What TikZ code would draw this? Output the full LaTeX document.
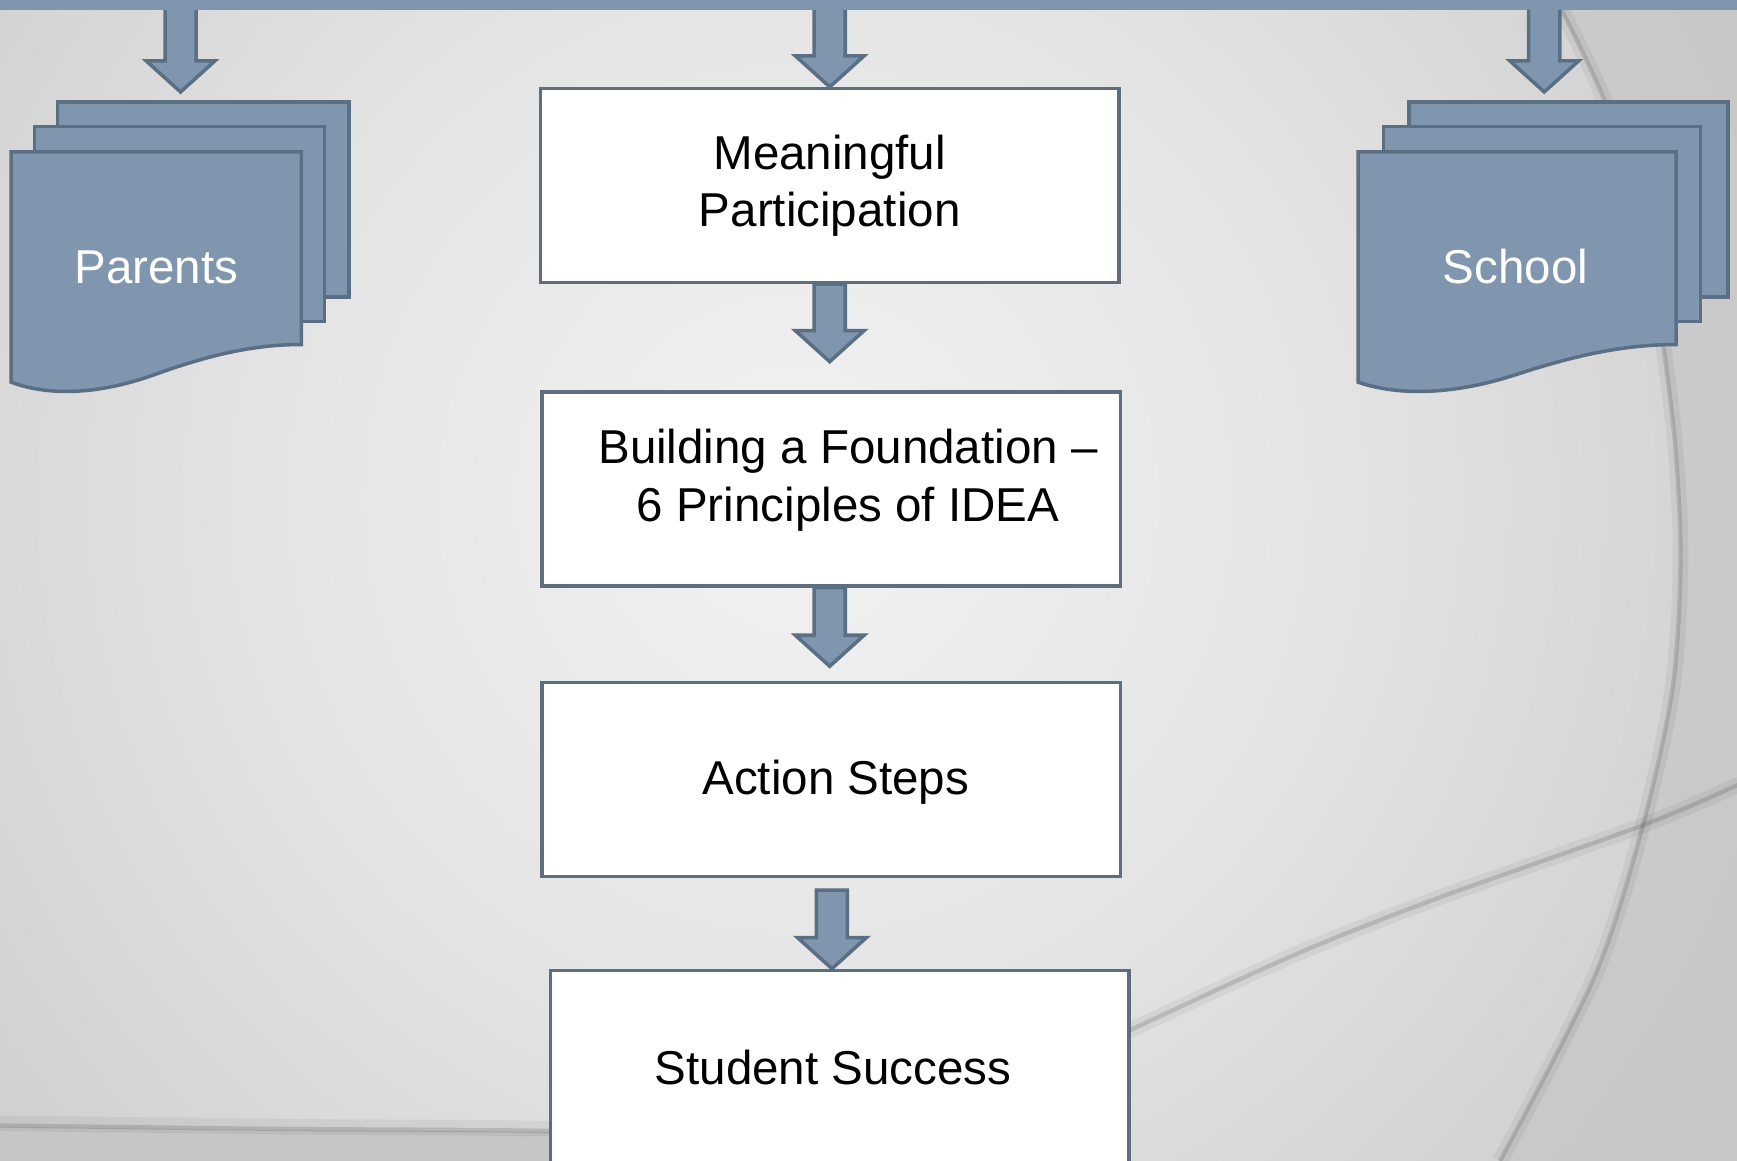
\documentclass[tikz,border=0pt]{standalone}
\usepackage{fontspec}
\setmainfont{Liberation Sans}
\usetikzlibrary{calc}
\definecolor{slate}{HTML}{7F96AE}
\definecolor{slateline}{HTML}{5B6F84}
\definecolor{boxline}{HTML}{5E6E7E}
\definecolor{bgin}{HTML}{F2F2F2}
\definecolor{bgmid}{HTML}{E4E4E4}
\definecolor{bgedge}{HTML}{B8B8B8}
\definecolor{bgout}{HTML}{A9A9A9}
\definecolor{arcfill}{HTML}{C6C6C6}
\definecolor{lowfill}{HTML}{C6C6C6}
\pgfdeclareradialshading{bgshade}{\pgfpoint{0bp}{0bp}}{color(0bp)=(bgin); color(6bp)=(bgmid); color(18bp)=(bgedge); color(25bp)=(bgout); color(50bp)=(bgout)}
\tikzset{
  sheet/.style={fill=slate, draw=slateline, line width=0.9pt, line join=miter},
  flowbox/.style={draw=boxline, fill=white, line width=0.85pt, minimum width=5.22cm,
    minimum height=1.75cm, inner sep=0pt, align=center,
    font=\fontsize{12.2}{14.8}\selectfont},
  boxtext/.style={inner sep=0pt, align=center, font=\fontsize{12.2}{14.8}\selectfont},
  sheettext/.style={inner sep=0pt, text=white, font=\fontsize{12.2}{14.8}\selectfont},
  blockarrow/.style={sheet, to path={let \p1=(\tikztostart), \p2=(\tikztotarget) in
    (\x2-0.14cm,\y1) -- (\x2-0.14cm,\y2+0.28cm) -- (\x2-0.31cm,\y2+0.28cm) -- (\x2,\y2)
    -- (\x2+0.31cm,\y2+0.28cm) -- (\x2+0.14cm,\y2+0.28cm) -- (\x2+0.14cm,\y1) -- cycle}},
  bandarrow/.style={sheet, to path={let \p1=(\tikztostart), \p2=(\tikztotarget) in
    (\x2-0.14cm,\y1) -- (\x2-0.14cm,\y2+0.28cm) -- (\x2-0.31cm,\y2+0.28cm) -- (\x2,\y2)
    -- (\x2+0.31cm,\y2+0.28cm) -- (\x2+0.14cm,\y2+0.28cm) -- (\x2+0.14cm,\y1)}},
  softshadow/.style={draw=black, line width=4pt, opacity=0.05},
  hardshadow/.style={draw=black, line width=1.1pt, opacity=0.13}
}
\begin{document}
\begin{tikzpicture}[x=0.01cm,y=-0.01cm]
\useasboundingbox (0,0) rectangle (1568,1048);
% background
\begin{scope}
  \clip (0,0) rectangle (1568,1048);
  \fill[bgout] (0,0) rectangle (1568,1048);
  \shade[shading=bgshade] (720,450) circle[radius=2000];
  \fill[arcfill, opacity=0.7] plot[smooth] coordinates {(1405,0) (1452,100) (1488,230) (1510,380) (1517,500) (1510,620) (1483,745) (1440,880) (1354,1048)} -- (1568,1048) -- (1568,0) -- cycle;
  \fill[lowfill] plot[smooth] coordinates {(0,1017) (250,1020) (497,1022) (700,1030) (900,1050)} -- (0,1050) -- cycle;
  \draw[softshadow] plot[smooth] coordinates {(1405,0) (1452,100) (1488,230) (1510,380) (1517,500) (1510,620) (1483,745) (1440,880) (1354,1048)};
  \draw[hardshadow] plot[smooth] coordinates {(1405,0) (1452,100) (1488,230) (1510,380) (1517,500) (1510,620) (1483,745) (1440,880) (1354,1048)};
  \draw[softshadow] plot[smooth] coordinates {(1570,708) (1483,745) (1300,810) (1173,860) (1020,930) (960,960)};
  \draw[hardshadow] plot[smooth] coordinates {(1570,708) (1483,745) (1300,810) (1173,860) (1020,930) (960,960)};
  \draw[softshadow] plot[smooth] coordinates {(0,1014) (250,1017) (497,1019) (700,1027) (900,1047)};
  \draw[hardshadow] plot[smooth] coordinates {(0,1016) (250,1019) (497,1021) (700,1029) (900,1049)};
\end{scope}

% top band
\node[fill=slate, minimum width=15.68cm, minimum height=0.09cm, inner sep=0pt, outer sep=0pt, anchor=north west] (band) at (0,0) {};

% Parents stack
\draw[sheet] (52,92) rectangle (315,268);
\draw[sheet] (31,114) rectangle (293,290);
\draw[sheet] (10,137) -- (272,137) -- (272,311) .. controls (230,311) and (190,320) .. (140,338) .. controls (90,356) and (45,358) .. (10,345) -- cycle;
\node[sheettext] (parents) at (141,241) {Parents};
\coordinate (ptip) at (163,83);
\draw[bandarrow] (band.south) to (ptip);

% School stack
\draw[sheet] (1272,92) rectangle (1560,268);
\draw[sheet] (1249,114) rectangle (1535,290);
\draw[sheet] (1226,137) -- (1513,137) -- (1513,311) .. controls (1468,311) and (1424,320) .. (1369,338) .. controls (1314,356) and (1264,358) .. (1226,345) -- cycle;
\node[sheettext] (school) at (1368,241) {School};
\coordinate (stip) at (1394,83);
\draw[bandarrow] (band.south) to (stip);

% central flow
\node[flowbox] (mp) at (749,167.5) {Meaningful\\Participation};
\node[flowbox] (bf) at (750.5,441.5) {};
\node[boxtext] (bft) at ($(bf.center)+(15,-8)$) {Building a Foundation --\\6 Principles of IDEA};
\node[flowbox] (as) at (750.5,703.5) {};
\node[boxtext] (ast) at ($(as.center)+(4,3)$) {Action Steps};
\node[flowbox] (ss) at (758,963.5) {};
\node[boxtext] (sst) at ($(ss.center)+(-6,0)$) {Student Success};

\draw[bandarrow] (band.south) to (mp.north);
\draw[blockarrow] (mp.south) to ($(bf.north)+(-1.5,-26)$);
\draw[blockarrow] (bf.south) to ($(as.north)+(-1.5,-13)$);
\draw[blockarrow] ($(as.south)+(0,11)$) to ($(ss.north)+(-7,0)$);
\end{tikzpicture}
\end{document}
